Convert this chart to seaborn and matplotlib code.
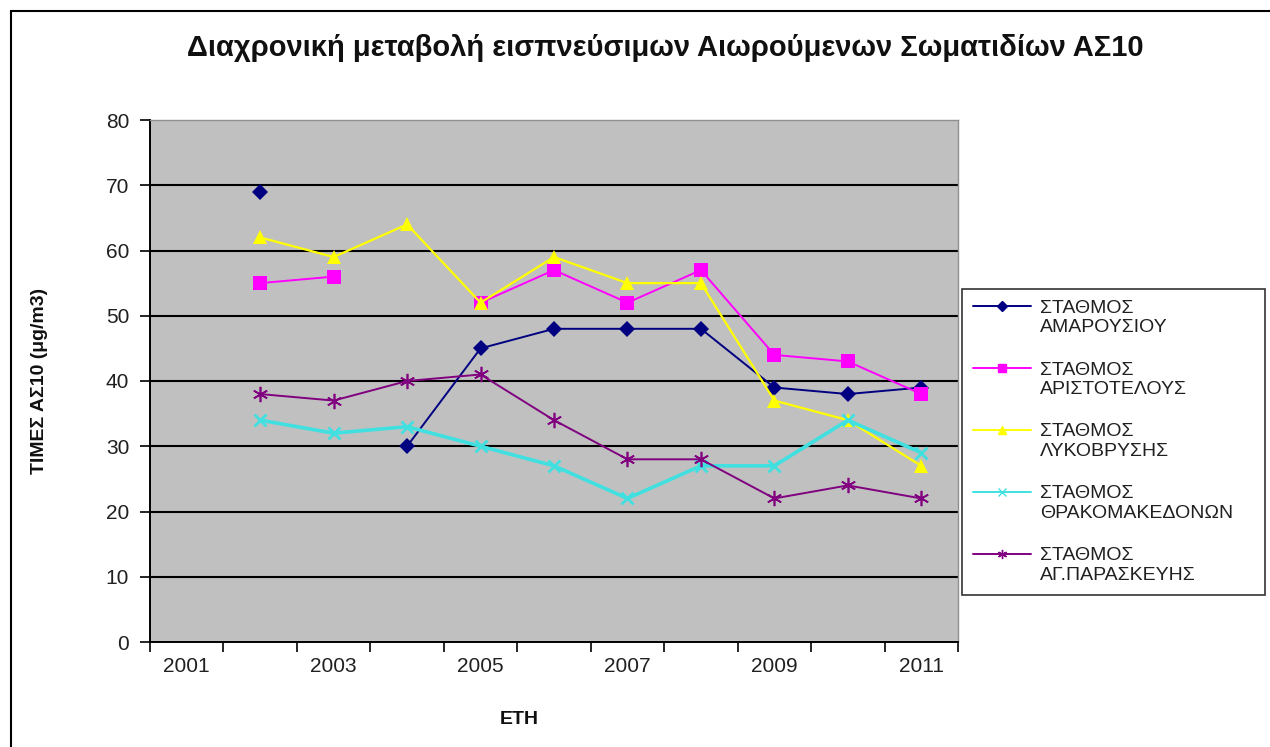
import numpy as np
import pandas as pd
import matplotlib
matplotlib.use("Agg")
import matplotlib.pyplot as plt
import seaborn as sns
from matplotlib.lines import Line2D
from matplotlib.patches import Rectangle
from matplotlib.legend_handler import HandlerLine2D

# Annual mean PM10 per monitoring station (µg/m3); NaN = no measurement
years = [2002, 2003, 2004, 2005, 2006, 2007, 2008, 2009, 2010, 2011]
amarousiou = [69, np.nan, 30, 45, 48, 48, 48, 39, 38, 39]
aristotelous = [55, 56, np.nan, 52, 57, 52, 57, 44, 43, 38]
lykovrysi = [62, 59, 64, 52, 59, 55, 55, 37, 34, 27]
thrakomakedones = [34, 32, 33, 30, 27, 22, 27, 27, 34, 29]
ag_paraskevi = [38, 37, 40, 41, 34, 28, 28, 22, 24, 22]

station_labels = [
    "ΣΤΑΘΜΟΣ\nΑΜΑΡΟΥΣΙΟΥ",
    "ΣΤΑΘΜΟΣ\nΑΡΙΣΤΟΤΕΛΟΥΣ",
    "ΣΤΑΘΜΟΣ\nΛΥΚΟΒΡΥΣΗΣ",
    "ΣΤΑΘΜΟΣ\nΘΡΑΚΟΜΑΚΕΔΟΝΩΝ",
    "ΣΤΑΘΜΟΣ\nΑΓ.ΠΑΡΑΣΚΕΥΗΣ",
]
series = [amarousiou, aristotelous, lykovrysi, thrakomakedones, ag_paraskevi]

category_years = list(range(2001, 2012))
xtick_labels = ["2001", "2003", "2005", "2007", "2009", "2011"]
ytick_values = [0, 10, 20, 30, 40, 50, 60, 70, 80]

title = "Διαχρονική μεταβολή εισπνεύσιμων Αιωρούμενων Σωματιδίων ΑΣ10"
ylabel = "ΤΙΜΕΣ ΑΣ10 (μg/m3)"
xlabel = "ΕΤΗ"

# Styling for each station line
colors = ["#000080", "#FF00FF", "#FFFF00", "#40E0E0", "#800080"]
markers = ["D", "s", "^", "x", (6, 2, 0)]
msizes = [8, 10.5, 10.5, 9, 11]
lwidths = [1.4, 1.4, 1.6, 2.6, 1.4]
medges = [0, 0, 0, 2.0, 1.2]

sns.set_theme(style="white")
plt.rcParams["font.family"] = ["Liberation Sans", "DejaVu Sans"]

fig = plt.figure(figsize=(12.7, 7.47), dpi=100)
ax = fig.add_axes([150 / 1270, 1 - 642 / 747, (958 - 150) / 1270, (642 - 120) / 747])
ax.set_facecolor("#C0C0C0")

for vals, lab, c, m, ms, lw, mew in zip(series, station_labels, colors, markers,
                                         msizes, lwidths, medges):
    df = pd.DataFrame({"year": years, "value": vals})
    # split into contiguous runs so gaps stay unconnected
    df["seg"] = df["value"].isna().cumsum()
    df = df.dropna()
    sns.lineplot(data=df, x="year", y="value", units="seg", estimator=None,
                 color=c, marker=m, markersize=ms, linewidth=lw,
                 markeredgewidth=mew, markeredgecolor=c, ax=ax, legend=False)

# Category-style x axis: ticks between years, labels on every other year
ax.set_xlim(category_years[0] - 0.5, category_years[-1] + 0.5)
ax.set_xticks([y - 0.5 for y in category_years] + [category_years[-1] + 0.5])
ax.set_xticklabels([])
ax.set_xticks([int(t) for t in xtick_labels], minor=True)
ax.set_xticklabels(xtick_labels, minor=True)
ax.tick_params(axis="x", which="major", direction="out", length=7, width=1.2,
               color="black", bottom=True)
ax.tick_params(axis="x", which="minor", length=0, pad=11, labelsize=15,
               labelcolor="#202020")

ax.set_ylim(ytick_values[0], ytick_values[-1])
ax.set_yticks(ytick_values)
ax.tick_params(axis="y", direction="out", length=7, width=1.2, color="black",
               left=True, pad=8, labelsize=15, labelcolor="#202020")

ax.yaxis.grid(True, color="black", linewidth=1.5)
ax.get_ygridlines()[-1].set_visible(False)
ax.get_ygridlines()[0].set_visible(False)
ax.xaxis.grid(False)

for side in ["left", "bottom"]:
    ax.spines[side].set_color("black")
    ax.spines[side].set_linewidth(1.4)
for side in ["top", "right"]:
    ax.spines[side].set_color("#909090")
    ax.spines[side].set_linewidth(1.0)

ax.set_xlabel("")
ax.set_ylabel("")

fig.text(665 / 1270, 1 - 48 / 747, title, ha="center", va="center",
         fontsize=21, fontweight="bold", color="#101010")
fig.text(40 / 1270, 1 - 381 / 747, ylabel, ha="center", va="center",
         rotation=90, fontsize=14, fontweight="bold", color="#101010")
fig.text(519 / 1270, 1 - 720 / 747, xlabel, ha="center", va="center",
         fontsize=14, fontweight="bold", color="#101010")


class FirstLineHandler(HandlerLine2D):
    """Place the legend key level with the first line of a two-line label."""

    def create_artists(self, legend, orig_handle, xdescent, ydescent, width,
                       height, fontsize, trans):
        artists = super().create_artists(legend, orig_handle, xdescent, ydescent,
                                         width, height, fontsize, trans)
        for a in artists:
            a.set_ydata(np.asarray(a.get_ydata(), dtype=float) + 0.6 * fontsize)
        return artists


# Legend with small markers
handles = [Line2D([], [], color=c, marker=m, markersize=ms * 0.6, linewidth=1.4,
                  markeredgecolor=c, markeredgewidth=1.0)
           for c, m, ms in zip(colors, markers, msizes)]
leg = fig.legend(handles, station_labels, loc="upper left",
                 bbox_to_anchor=(962 / 1270, 1 - 596 / 747, 303 / 1270, 307 / 747),
                 mode="expand", borderaxespad=0, frameon=True, fancybox=False,
                 edgecolor="black", facecolor="white", fontsize=14,
                 labelspacing=1.3, handlelength=3.0, handletextpad=0.45,
                 borderpad=0.55, labelcolor="#202020",
                 handler_map={Line2D: FirstLineHandler()})
leg.get_frame().set_linewidth(1.2)

# Outer chart frame
fig.add_artist(Rectangle((11 / 1270, -0.1), 1.2, 1.1 - 11 / 747,
                         transform=fig.transFigure, fill=False,
                         edgecolor="black", linewidth=1.5))

fig.savefig("out.png", dpi=100, facecolor="white")
